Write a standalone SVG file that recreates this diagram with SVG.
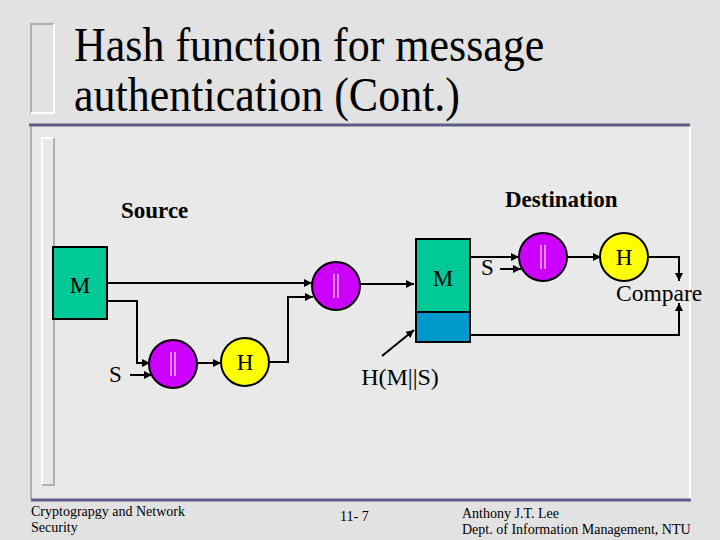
<svg xmlns="http://www.w3.org/2000/svg" width="720" height="540" viewBox="0 0 720 540">
<defs>
<marker id="ah" viewBox="0 0 10 10" refX="10" refY="5" markerWidth="8" markerHeight="8" markerUnits="userSpaceOnUse" orient="auto"><path d="M0,0 L10,5 L0,10 z" fill="#000"/></marker>
<style>
.t{font-family:"Liberation Serif","Times New Roman",serif;fill:#000}
.b{font-weight:bold}
.ln{fill:none;stroke:#000;stroke-width:2}
.box{stroke:#000;stroke-width:2}
.pipe{stroke:#f0e8f0;stroke-width:1.2}
</style>
</defs>
<rect x="0" y="0" width="720" height="540" fill="#e2e2e2"/>
<rect x="31" y="125" width="659" height="375" fill="#e9e9e9"/>
<!-- title bracket -->
<path d="M31,114 V24 H54" fill="none" stroke="#b0b0b0" stroke-width="2"/>
<path d="M54,24 V113 H31" fill="none" stroke="#ffffff" stroke-width="2"/>
<!-- frame -->
<line x1="29" y1="125" x2="690" y2="125" stroke="#5c5c8a" stroke-width="3"/>
<line x1="31" y1="127" x2="31" y2="499" stroke="#b0b0b0" stroke-width="2"/>
<line x1="690" y1="127" x2="690" y2="499" stroke="#ffffff" stroke-width="2"/>
<line x1="31" y1="500" x2="691" y2="500" stroke="#5c5c8a" stroke-width="3"/>
<!-- inner bracket -->
<path d="M42,484 V138 H54" fill="none" stroke="#ffffff" stroke-width="2"/>
<path d="M54,138 V485 H42" fill="none" stroke="#b0b0b0" stroke-width="2"/>
<text class="t" x="74" y="61" font-size="44" transform="translate(74,61) scale(1,1.12) translate(-74,-61)">Hash function for message</text>
<text class="t" x="74" y="111" font-size="44" transform="translate(74,111) scale(1,1.12) translate(-74,-111)">authentication (Cont.)</text>
<text class="t b" x="121" y="218" font-size="23">Source</text>
<text class="t b" x="505" y="207" font-size="23">Destination</text>
<g id="connectors">
<line class="ln" x1="107" y1="283" x2="312" y2="283" marker-end="url(#ah)"/>
<polyline class="ln" points="107,301 137,301 137,363 150,363" marker-end="url(#ah)"/>
<line class="ln" x1="130" y1="375" x2="152" y2="375" marker-end="url(#ah)"/>
<line class="ln" x1="197" y1="363" x2="221" y2="363" marker-end="url(#ah)"/>
<polyline class="ln" points="269,362 288,362 288,297 313,297" marker-end="url(#ah)"/>
<line class="ln" x1="360" y1="284" x2="414" y2="284" marker-end="url(#ah)"/>
<line class="ln" x1="382" y1="356" x2="414" y2="330" marker-end="url(#ah)"/>
<line class="ln" x1="470" y1="257" x2="519" y2="257" marker-end="url(#ah)"/>
<line class="ln" x1="500" y1="269" x2="521" y2="269" marker-end="url(#ah)"/>
<line class="ln" x1="567" y1="257" x2="601" y2="257" marker-end="url(#ah)"/>
<polyline class="ln" points="648,257 679,257 679,281" marker-end="url(#ah)"/>
<polyline class="ln" points="470,335 679,335 679,303" marker-end="url(#ah)"/>
</g>
<g id="src-M"><rect class="box" x="53" y="247" width="54" height="72" fill="#00c896"/><text class="t" x="80" y="293" font-size="23" text-anchor="middle">M</text></g>
<g id="src-S"><text class="t" x="109" y="382" font-size="23">S</text></g>
<g id="src-concat1"><circle class="box" cx="173" cy="364" r="24" fill="#cc00ff"/><line class="pipe" x1="171" y1="352" x2="171" y2="376"/><line class="pipe" x1="175" y1="352" x2="175" y2="376"/></g>
<g id="src-H"><circle class="box" cx="245" cy="362" r="24" fill="#ffff00"/><text class="t" x="245" y="370" font-size="23" text-anchor="middle">H</text></g>
<g id="src-concat2"><circle class="box" cx="336" cy="286" r="24" fill="#cc00ff"/><line class="pipe" x1="334" y1="274" x2="334" y2="298"/><line class="pipe" x1="338" y1="274" x2="338" y2="298"/></g>
<g id="dest-msg"><rect class="box" x="416" y="239" width="54" height="73" fill="#00c896"/><rect class="box" x="416" y="312" width="54" height="30" fill="#0099cc"/><text class="t" x="443" y="286" font-size="23" text-anchor="middle">M</text></g>
<g id="hms-label"><text class="t" x="400" y="385" font-size="24" text-anchor="middle">H(M||S)</text></g>
<g id="dst-S"><text class="t" x="481" y="275" font-size="23">S</text></g>
<g id="dst-concat"><circle class="box" cx="543" cy="257" r="24" fill="#cc00ff"/><line class="pipe" x1="541" y1="245" x2="541" y2="269"/><line class="pipe" x1="545" y1="245" x2="545" y2="269"/></g>
<g id="dst-H"><circle class="box" cx="624" cy="257" r="24" fill="#ffff00"/><text class="t" x="624" y="265" font-size="23" text-anchor="middle">H</text></g>
<g id="compare"><text class="t" x="616" y="301" font-size="23.5">Compare</text></g>
<g id="footer">
<text class="t" x="31" y="516" font-size="14">Cryptograpgy and Network</text>
<text class="t" x="31" y="532" font-size="14">Security</text>
<text class="t" x="340" y="521" font-size="14">11- 7</text>
<text class="t" x="462" y="518" font-size="14">Anthony J.T. Lee</text>
<text class="t" x="462" y="534" font-size="14">Dept. of Information Management, NTU</text>
</g>
</svg>
